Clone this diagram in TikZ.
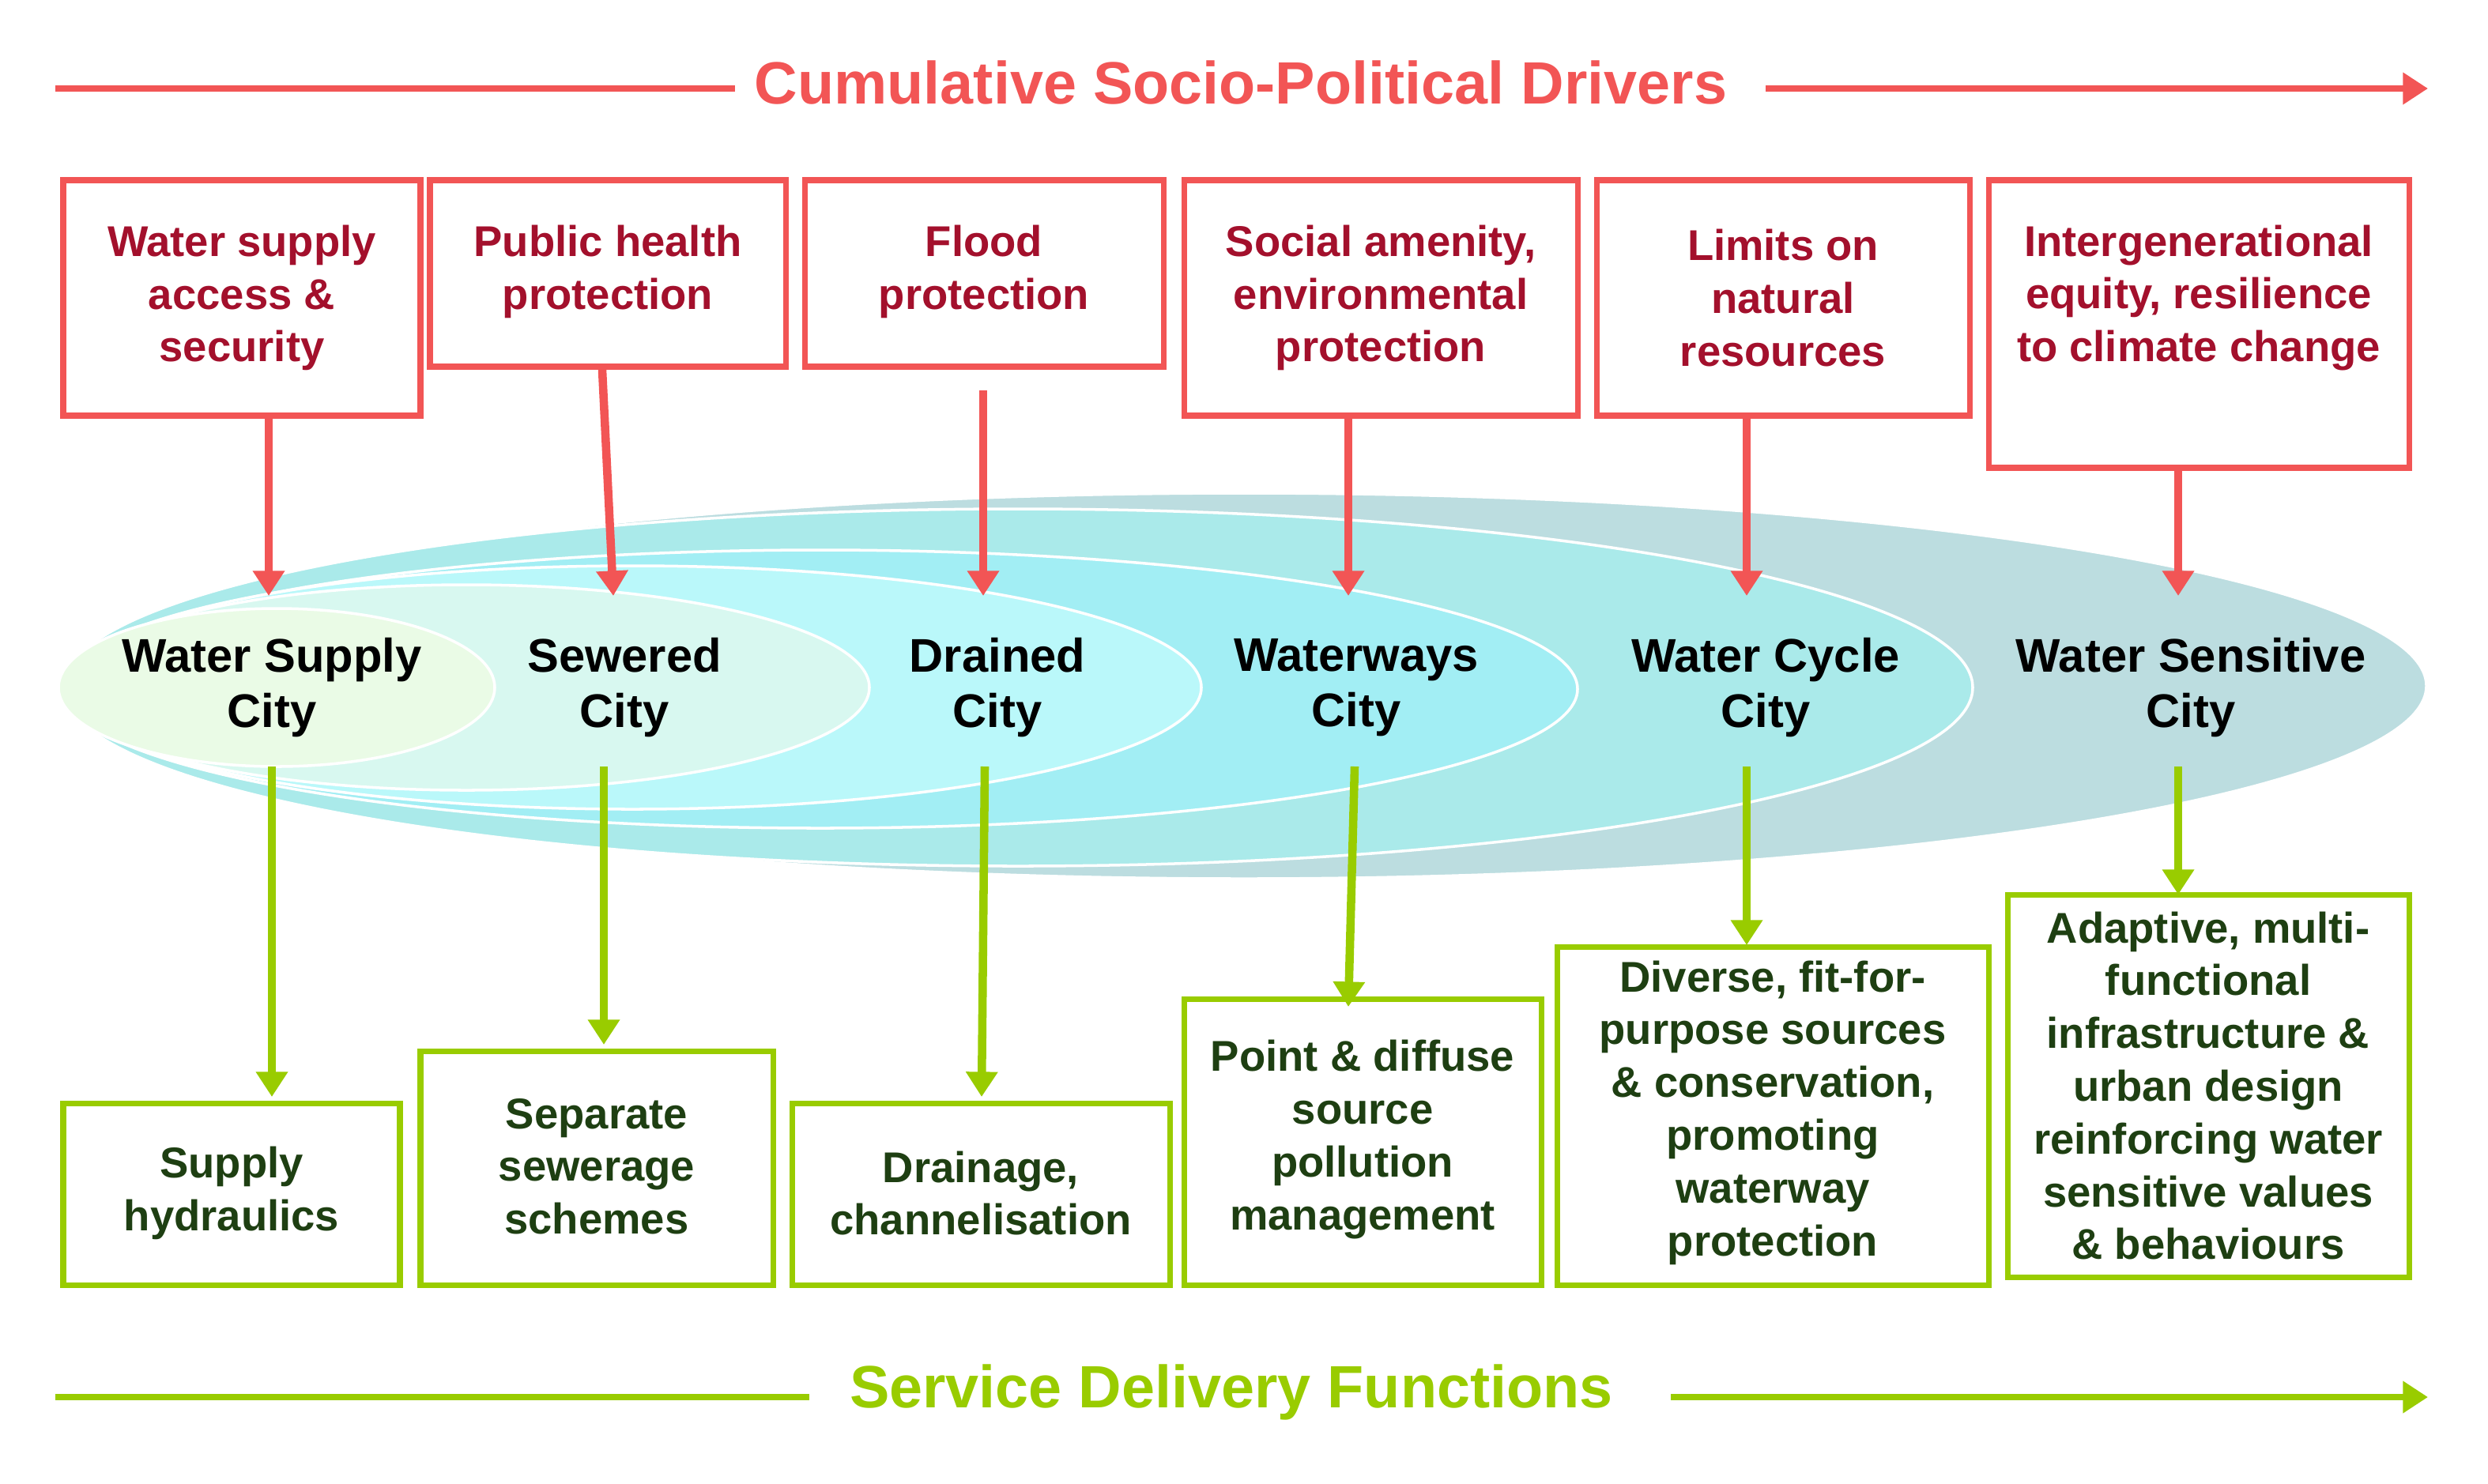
\documentclass[tikz,border=0pt]{standalone}
\usepackage{fontspec}
\setmainfont{Liberation Sans}
\usetikzlibrary{arrows.meta}
\definecolor{rd}{HTML}{F25555}
\definecolor{rdt}{HTML}{A3102C}
\definecolor{gn}{HTML}{99CC00}
\definecolor{gnt}{HTML}{1E3F12}
\begin{document}
\begin{tikzpicture}[x=0.02cm,y=-0.02cm,
  rbox/.style={text=rdt,font=\bfseries\fontsize{15.5}{19}\selectfont,align=center},
  gbox/.style={text=gnt,font=\bfseries\fontsize{15.5}{19}\selectfont,align=center},
  city/.style={font=\bfseries\fontsize{17}{20}\selectfont,align=center},
  ra/.style={draw=rd,line width=3pt,-{Triangle[length=9pt,width=11pt]}},
  ga/.style={draw=gn,line width=3pt,-{Triangle[length=9pt,width=11pt]}},
  ell/.style={draw=white,line width=1pt}]
\useasboundingbox (0,0) rectangle (1574,938.5);
% title arrows
\node[text=rd,font=\bfseries\fontsize{21.5}{24}\selectfont] (t1) at (785,52) {Cumulative Socio-Political Drivers};
\coordinate (a1) at (35,56); \coordinate (a1e) at (465,56);
\coordinate (a2s) at (1117,56); \coordinate (a2) at (1536,56);
\draw[rd,line width=2.5pt] (a1) -- (a1e);
\draw[ra,line width=2.5pt] (a2s) -- (a2);
\node[text=gn,font=\bfseries\fontsize{21.5}{24}\selectfont] (t2) at (779,881) {Service Delivery Functions};
\coordinate (b1) at (35,884); \coordinate (b1e) at (512,884);
\coordinate (b2s) at (1057,884); \coordinate (b2) at (1536,884);
\draw[gn,line width=2.5pt] (b1) -- (b1e);
\draw[ga,line width=2.5pt] (b2s) -- (b2);
% ellipses
\fill[ell,fill={rgb,255:red,188;green,221;blue,224}] (787,434) ellipse [x radius=748,y radius=122];
\draw[ell,fill={rgb,255:red,170;green,234;blue,234}] (644,435) ellipse [x radius=604,y radius=113];
\draw[ell,fill={rgb,255:red,162;green,238;blue,244}] (519,436) ellipse [x radius=479,y radius=88];
\draw[ell,fill={rgb,255:red,186;green,248;blue,250}] (400,435) ellipse [x radius=360,y radius=77];
\draw[ell,fill={rgb,255:red,216;green,248;blue,240}] (295,435) ellipse [x radius=255,y radius=65];
\draw[ell,fill={rgb,255:red,234;green,251;blue,230}] (175,435) ellipse [x radius=138,y radius=50];
% cities
\node[city] (c1) at (172,435) {Water Supply\\City};
\node[city] (c2) at (395,435) {Sewered\\City};
\node[city] (c3) at (631,435) {Drained\\City};
\node[city] (c4) at (858,435) {Waterways\\City};
\node[city] (c5) at (1117,435) {Water Cycle\\City};
\node[city] (c6) at (1386,435) {Water Sensitive\\City};
% red boxes
\draw[rd,line width=2pt] (40,114) rectangle (266,263);
\node[rbox] (r1) at (153,188.5) {Water supply\\access \&\\security};
\draw[rd,line width=2pt] (272,114) rectangle (497,232);
\node[rbox] (r2) at (384.5,172) {Public health\\protection};
\draw[rd,line width=2pt] (509,114) rectangle (736,232);
\node[rbox] (r3) at (622.5,172) {Flood\\protection};
\draw[rd,line width=2pt] (749,114) rectangle (998,263);
\node[rbox] (r4) at (873.5,188.5) {Social amenity,\\environmental\\protection};
\draw[rd,line width=2pt] (1010,114) rectangle (1246,263);
\node[rbox] (r5) at (1128,188.5) {Limits on\\natural\\resources};
\draw[rd,line width=2pt] (1258,114) rectangle (1524,296);
\node[rbox] (r6) at (1391,188.5) {Intergenerational\\equity, resilience\\to climate change};
\coordinate (ra1) at (170,265); \coordinate (rb1) at (170,377);
\coordinate (ra2) at (381,234); \coordinate (rb2) at (388,377);
\coordinate (ra3) at (622,247); \coordinate (rb3) at (622,377);
\coordinate (ra4) at (853,265); \coordinate (rb4) at (853,377);
\coordinate (ra5) at (1105,265); \coordinate (rb5) at (1105,377);
\coordinate (ra6) at (1378,298); \coordinate (rb6) at (1378,377);
\foreach \i in {1,...,6} {\draw[ra] (ra\i) -- (rb\i);}
% green boxes
\draw[gn,line width=2pt] (40,698) rectangle (253,813);
\node[gbox] (g1) at (146.5,755) {Supply\\hydraulics};
\draw[gn,line width=2pt] (266,665) rectangle (489,813);
\node[gbox] (g2) at (377.5,738) {Separate\\sewerage\\schemes};
\draw[gn,line width=2pt] (501,698) rectangle (740,813);
\node[gbox] (g3) at (620.5,755) {Drainage,\\channelisation};
\draw[gn,line width=2pt] (749,632) rectangle (975,813);
\node[gbox] (g4) at (862,721) {Point \& diffuse\\source\\pollution\\management};
\draw[gn,line width=2pt] (985,599) rectangle (1258,813);
\node[gbox] (g5) at (1121.5,704) {Diverse, fit-for-\\purpose sources\\\& conservation,\\promoting\\waterway\\protection};
\draw[gn,line width=2pt] (1270,566) rectangle (1524,808);
\node[gbox] (g6) at (1397,687) {Adaptive, multi-\\functional\\infrastructure \&\\urban design\\reinforcing water\\sensitive values\\\& behaviours};
\coordinate (ga1) at (172,485); \coordinate (gb1) at (172,694);
\coordinate (ga2) at (382,485); \coordinate (gb2) at (382,661);
\coordinate (ga3) at (623,485); \coordinate (gb3) at (621,694);
\coordinate (ga4) at (857,485); \coordinate (gb4) at (853,637);
\coordinate (ga5) at (1105,485); \coordinate (gb5) at (1105,598);
\coordinate (ga6) at (1378,485); \coordinate (gb6) at (1378,566);
\foreach \i in {1,...,6} {\draw[ga] (ga\i) -- (gb\i);}
\end{tikzpicture}
\end{document}
